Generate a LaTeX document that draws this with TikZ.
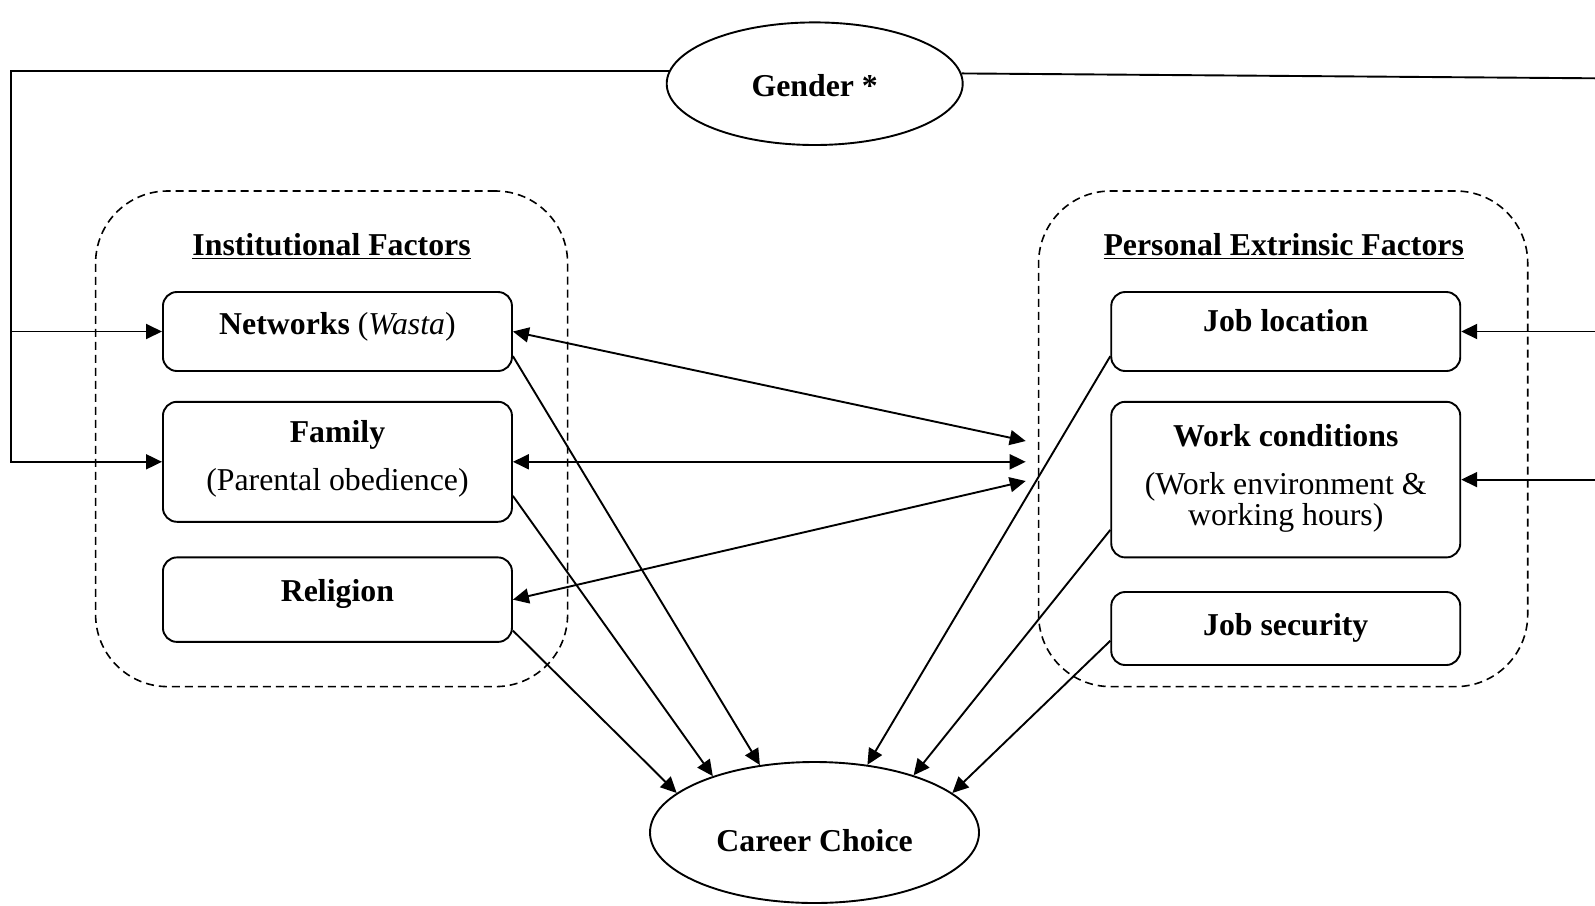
\documentclass[tikz,border=0pt]{standalone}
\usepackage{fontspec}
\setmainfont{Liberation Serif}
\usetikzlibrary{arrows.meta,shapes.geometric}

\begin{document}
\begin{tikzpicture}[x=0.5pt, y=-0.5pt, line width=0.95pt,
  >={Triangle[length=8pt,width=7.5pt]},
  box/.style={draw, rounded corners=7pt, inner sep=0pt, minimum width=174.5pt},
  group/.style={draw, line width=0.8pt, dash pattern=on 4pt off 2.5pt, rounded corners=36pt, inner sep=0pt},
  oval/.style={draw, ellipse, inner sep=0pt},
  lbl/.style={anchor=base, inner sep=0pt, font=\fontsize{15.9}{19}\selectfont},
  hd/.style={lbl, font=\fontsize{15.9}{19}\selectfont\bfseries},
]
\useasboundingbox (0,0) rectangle (1595,905);

% factor groups
\node[group, minimum width=236pt, minimum height=247.8pt] (inst) at (331.6,438.8) {};
\node[group, minimum width=244.55pt, minimum height=247.8pt] (pers) at (1283.15,438.8) {};
\node[hd] (instT) at (331.6,255) {\underline{Institutional Factors}};
\node[hd] (persT) at (1283.7,255) {\underline{Personal Extrinsic Factors}};

% factor boxes
\node[box, minimum height=39.5pt] (net) at (337.45,331.5) {};
\node[box, minimum height=60pt] (fam) at (337.45,461.8) {};
\node[box, minimum height=42.25pt] (rel) at (337.45,599.65) {};
\node[box, minimum height=39.5pt] (job) at (1285.75,331.5) {};
\node[box, minimum height=77.8pt] (work) at (1285.75,479.6) {};
\node[box, minimum height=36.5pt] (sec) at (1285.75,628.5) {};

\node[hd] (netT) at (337.45,334) {Networks \textnormal{(\textit{Wasta})}};
\node[hd] (famT) at (337.45,442.7) {Family};
\node[lbl] (famS) at (337.45,490.7) {(Parental obedience)};
\node[hd] (relT) at (337.45,601) {Religion};
\node[hd] (jobT) at (1285.75,331.5) {Job location};
\node[hd] (workT) at (1285.75,446) {Work conditions};
\node[lbl] (workS1) at (1285.75,494.5) {(Work environment \&};
\node[lbl] (workS2) at (1285.75,525.5) {working hours)};
\node[hd] (secT) at (1285.75,635) {Job security};

% gender and outcome
\node[oval, minimum width=148pt, minimum height=61.3pt] (gen) at (814.7,83.7) {};
\node[hd] (genT) at (814.7,96) {Gender *};
\node[oval, minimum width=164.5pt, minimum height=70.5pt] (cc) at (814.5,832.5) {};
\node[hd] (ccT) at (814.6,851) {Career Choice};

% helper points
\coordinate (lx) at (11,0);
\coordinate (rx) at (1595,0);
\coordinate (rEnd) at (1595,78.3);
\coordinate (mx) at (1025.7,0);
\coordinate (m1) at (1025.7,441);
\coordinate (m3) at (1025.7,481);

% gender links
\draw[->] (gen.175.3) -| (lx |- fam.west) -- (fam.west);
\draw[->] (lx |- net.west) -- (net.west);
\draw (gen.4.7) -- (rEnd);
\draw[->] (rx |- job.east) -- (job.east);
\draw[->] (rx |- work.-0.8) -- (work.-0.8);

% mutual links
\draw[<->] (net.east) -- (m1);
\draw[<->] (fam.east) -- (mx |- fam.east);
\draw[<->] (rel.east) -- (m3);

% links to career choice
\draw[->] (net.-8.7) -- (cc.129.2);
\draw[->] (fam.-11.9) -- (cc.151.2);
\draw[->] (rel.-10.8) -- (cc.164.1);
\draw[->] (job.188.6) -- (cc.52.8);
\draw[->] (work.196.4) -- (cc.30.6);
\draw[->] (sec.184.7) -- (cc.16.3);
\end{tikzpicture}
\end{document}
